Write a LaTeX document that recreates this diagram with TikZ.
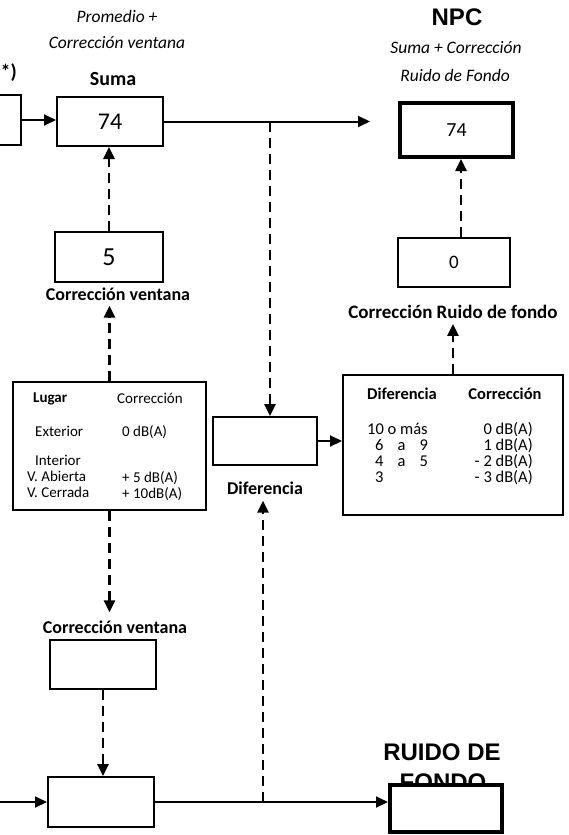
\documentclass[tikz,border=0pt]{standalone}
\usepackage{fontspec}
\setmainfont{Carlito}
\newfontfamily\arialf{Liberation Sans}
\usetikzlibrary{arrows.meta}
\begin{document}
\begin{tikzpicture}[x=1pt,y=-1pt,
  bx/.style={draw, line width=2pt, inner sep=0pt, fill=white},
  bxthick/.style={draw, line width=4pt, inner sep=0pt, fill=white},
  ital/.style={font=\fontsize{17.5}{20}\selectfont\itshape, inner sep=0pt},
  lbl/.style={font=\fontsize{18}{21}\selectfont\bfseries, inner sep=0pt},
  arialbig/.style={font=\fontsize{24}{26}\selectfont\arialf\bfseries, inner sep=0pt},
  ltxt/.style={font=\fontsize{15}{17}\selectfont, inner sep=0pt},
  rtxt/.style={font=\fontsize{16.5}{18}\selectfont, inner sep=0pt},
  sarr/.style={line width=2pt, -{Triangle[length=12pt,width=11pt]}},
  darr/.style={line width=2.5pt, dash pattern=on 10pt off 6pt, -{Triangle[length=12pt,width=11pt]}}
]
\useasboundingbox[fill=white] (0,0) rectangle (569,835);

% top labels
\node[ital] (t1) at (117,16) {Promedio +};
\node[ital] (t2) at (117,43) {Corrección ventana};
\node[lbl, font=\fontsize{20}{22}\selectfont\bfseries] (tsuma) at (113,79) {Suma};
\node[lbl, font=\fontsize{20}{22}\selectfont\bfseries, anchor=west] (tstar) at (0.5,73) {*)};
\node[arialbig] (tnpc) at (457,17) {NPC};
\node[ital] (t3) at (456,48) {Suma + Corrección};
\node[ital] (t4) at (455,75) {Ruido de Fondo};

% boxes
\node[bx, minimum width=40pt, minimum height=50pt] (lbox) at (1,120) {};
\node[bx, minimum width=106pt, minimum height=49pt, font=\fontsize{24}{26}\selectfont] (suma) at (110,121.5) {74};
\node[bxthick, minimum width=113pt, minimum height=54pt, font=\fontsize{20}{22}\selectfont] (npc) at (456.5,130) {74};
\node[bx, minimum width=108pt, minimum height=50pt, font=\fontsize{26}{28}\selectfont] (cinco) at (109,257) {5};
\node[bx, minimum width=112pt, minimum height=49pt, font=\fontsize{19}{21}\selectfont] (cero) at (454,262.5) {0};
\node[bx, minimum width=193pt, minimum height=128pt] (ltab) at (109.5,446) {};
\node[bx, minimum width=104pt, minimum height=48pt] (dif) at (265,441) {};
\node[bx, minimum width=220pt, minimum height=140pt] (rtab) at (453,445) {};
\node[bx, minimum width=106pt, minimum height=49pt] (cvbox) at (103,664.5) {};
\node[bx, minimum width=106pt, minimum height=50pt] (bbox) at (101,802) {};

% labels around boxes
\node[lbl] (tcv1) at (118,294) {Corrección ventana};
\node[lbl, font=\fontsize{19}{21}\selectfont\bfseries] (tcrf) at (453,312) {Corrección Ruido de fondo};
\node[lbl] (tdif) at (265,488) {Diferencia};
\node[lbl] (tcv2) at (115,627) {Corrección ventana};
\node[arialbig] (tr1) at (442,752) {RUIDO DE};
\node[arialbig] (tr2) at (443,782) {FONDO};
\node[bxthick, minimum width=112pt, minimum height=47pt] (rbox) at (446,808.5) {};

% left table text
\node[ltxt, font=\fontsize{15}{17}\selectfont\bfseries, anchor=base west] (lh1) at (33,402) {Lugar};
\node[ltxt, anchor=base west] (lh2) at (117,403) {Corrección};
\node[ltxt, anchor=base west] (lr1a) at (35,436) {Exterior};
\node[ltxt, anchor=base west] (lr1b) at (122,436) {0 dB(A)};
\node[ltxt, anchor=base west] (lr2a) at (35,465) {Interior};
\node[ltxt, anchor=base west] (lr3a) at (27,481) {V. Abierta};
\node[ltxt, anchor=base west] (lr3b) at (122,482) {+ 5 dB(A)};
\node[ltxt, anchor=base west] (lr4a) at (27,497) {V. Cerrada};
\node[ltxt, anchor=base west] (lr4b) at (122,498) {+ 10dB(A)};

% right table text
\node[rtxt, font=\fontsize{16.5}{18}\selectfont\bfseries, anchor=base] (rh1) at (402,399) {Diferencia};
\node[rtxt, font=\fontsize{16.5}{18}\selectfont\bfseries, anchor=base] (rh2) at (505,399) {Corrección};
\node[rtxt, anchor=base west] (rr1a) at (367,434) {10 o más};
\node[rtxt, anchor=base west] (rr2a) at (375,450) {6\hspace{0.85em}a\hspace{0.85em}9};
\node[rtxt, anchor=base west] (rr3a) at (375,466) {4\hspace{0.85em}a\hspace{0.85em}5};
\node[rtxt, anchor=base west] (rr4a) at (375,482) {3};
\node[rtxt, anchor=base east] (rr1b) at (533,434) {0 dB(A)};
\node[rtxt, anchor=base east] (rr2b) at (533,450) {1 dB(A)};
\node[rtxt, anchor=base east] (rr3b) at (533,466) {- 2 dB(A)};
\node[rtxt, anchor=base east] (rr4b) at (533,482) {- 3 dB(A)};

% connectors
\coordinate (lin) at (0,802);
\coordinate (j1) at (270,121.5);
\coordinate (j2) at (263,802);
\draw[sarr] (lbox.east) -- (lbox.east -| suma.west);
\draw[sarr, shorten >=28pt] (suma.east) -- (suma.east -| npc.west);
\draw[darr] (j1) -- (j1 |- dif.north);
\draw[darr] (cinco.north) -- (cinco.north |- suma.south);
\draw[darr, shorten >=5pt] (ltab.north) -- (ltab.north |- tcv1.south);
\draw[darr, shorten >=8pt] (ltab.south) -- (ltab.south |- tcv2.north);
\draw[darr] (cvbox.south) -- (cvbox.south |- bbox.north);
\draw[sarr] (lin) -- (bbox.west);
\draw[sarr] (bbox.east) -- (bbox.east -| rbox.west);
\draw[darr, shorten >=6pt] (j2) -- (j2 |- tdif.south);
\draw[sarr] (dif.east) -- (dif.east -| rtab.west);
\draw[darr, shorten >=5pt] (rtab.north) -- (rtab.north |- tcrf.south);
\draw[darr] ([xshift=7pt]cero.north) -- ([xshift=7pt]cero.north |- npc.south);
\end{tikzpicture}
\end{document}
